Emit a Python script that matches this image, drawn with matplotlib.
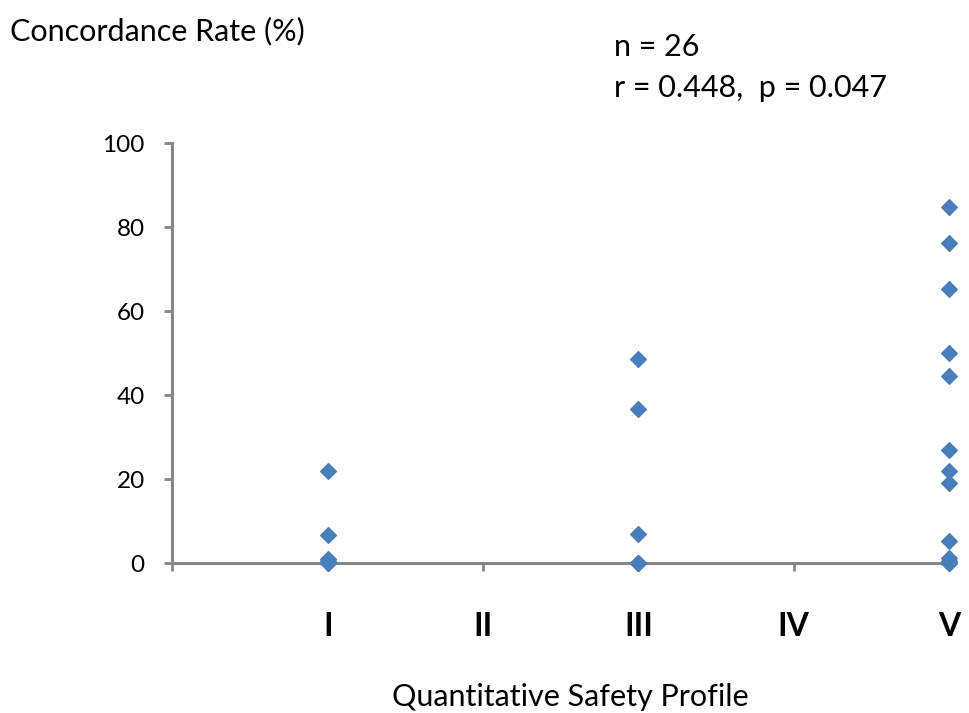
import matplotlib
matplotlib.use("Agg")
import matplotlib.pyplot as plt

# safety profile class (1=I ... 5=V) and concordance rate (%)
profile_I = [22.1, 6.7, 1.0, 0.5, 0.2, 0.0]
profile_III = [48.6, 36.7, 6.9, 0.2, 0.0, 0.0]
profile_V = [84.9, 76.3, 65.2, 50.0, 44.5, 26.9, 21.9, 19.2, 5.3, 1.3, 0.5, 0.2, 0.0, 0.0]
class_labels = ['', 'I', 'II', 'III', 'IV', 'V']

xs = [1] * len(profile_I) + [3] * len(profile_III) + [5] * len(profile_V)
ys = profile_I + profile_III + profile_V

plt.rcParams['font.family'] = ['Lato', 'DejaVu Sans']

fig = plt.figure(figsize=(9.7, 7.13), dpi=100)
ax = fig.add_axes([0.1778, 0.2097, 0.8006, 0.5897])

ax.scatter(xs, ys, marker='D', s=64, color='#4A7EBB', zorder=3, clip_on=False)

ax.set_xlim(0, 5)
ax.set_ylim(0, 100)
ax.set_xticks(range(6))
ax.set_xticklabels(class_labels, fontsize=23, fontweight='bold')
ax.set_yticks(range(0, 101, 20))
ax.tick_params(axis='y', labelsize=17.5, length=6, width=2, color='#868686', pad=14)
ax.tick_params(axis='x', length=6, width=2, color='#868686', pad=29)

for side in ['top', 'right']:
    ax.spines[side].set_visible(False)
for side in ['left', 'bottom']:
    ax.spines[side].set_color('#868686')
    ax.spines[side].set_linewidth(2.2)

fig.text(0.010, 0.956, 'Concordance Rate (%)', fontsize=22, va='center')
fig.text(0.633, 0.934, 'n = 26', fontsize=22, va='center')
fig.text(0.633, 0.876, 'r = 0.448,  p = 0.047', fontsize=22, va='center')
fig.text(0.588, 0.022, 'Quantitative Safety Profile', fontsize=22, ha='center', va='center')

fig.savefig('out.png', dpi=100)
